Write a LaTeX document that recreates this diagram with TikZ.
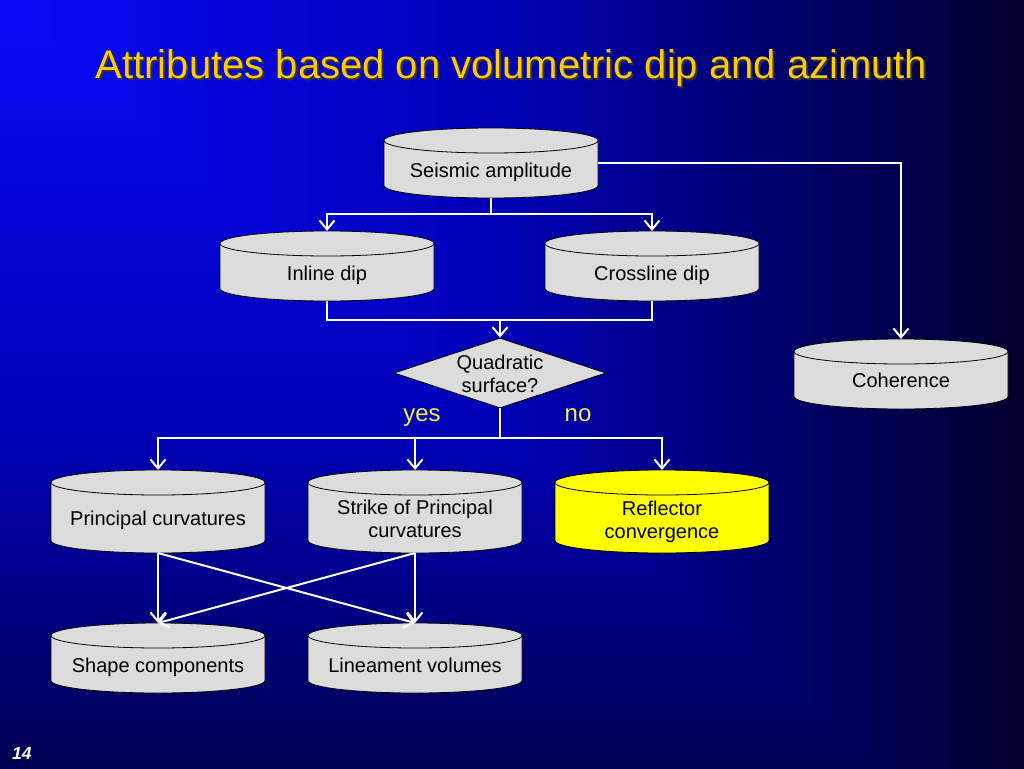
\documentclass[tikz,border=0pt]{standalone}
\usepackage{fontspec}
\setmainfont{Liberation Sans}
\usetikzlibrary{shapes.geometric,arrows.meta}
\definecolor{cylgray}{RGB}{220,220,220}
\definecolor{cylyellow}{RGB}{255,255,0}
\definecolor{titlecol}{RGB}{255,204,0}
\definecolor{yncol}{RGB}{240,240,80}
\newcommand\ryc{12.5pt}
\newcommand\drawcyl[2]{%
  \draw[cylline, fill=#2] ([yshift=-\ryc]#1.north west)
    arc[start angle=180,end angle=0,x radius=107pt,y radius=\ryc]
    -- ([yshift=\ryc]#1.south east)
    arc[start angle=0,end angle=-180,x radius=107pt,y radius=\ryc] -- cycle;
  \draw[cylline] ([yshift=-\ryc]#1.north west)
    arc[start angle=180,end angle=360,x radius=107pt,y radius=\ryc];
}
\tikzset{
  cylbase/.style={rectangle, minimum width=214pt, inner sep=0pt, outer sep=0pt},
  short/.style={cylbase, minimum height=70pt},
  tall/.style={cylbase, minimum height=83pt},
  txt/.style={font=\fontsize{20}{23}\selectfont, align=center, inner sep=0pt, text=black},
  cylline/.style={draw=black, line width=0.8pt},
  conn/.style={draw=white, line width=2pt},
  arr/.style={conn, -{Straight Barb[length=9pt,width=15pt]}},
  yn/.style={font=\fontsize{24}{28}\selectfont, text=yncol, inner sep=0pt, anchor=base},
}
\begin{document}
\begin{tikzpicture}[x=1pt,y=1pt]
\useasboundingbox (0,0) rectangle (1024,-768);
% background gradient from top-left corner
\begin{scope}
\clip (0,0) rectangle (1024,-768);
\foreach \i in {120,119,...,1}{
  \pgfmathsetmacro\t{\i/120}
  \pgfmathtruncatemacro\bb{\t<0.5 ? 250-140*\t : 180-268*(\t-0.5)}
  \pgfmathtruncatemacro\rg{max(0,10-20*\t)}
  \definecolor{bgc}{RGB}{\rg,\rg,\bb}
  \fill[bgc] (0,0) rectangle (1024*\t+1, -889*\t-1);
}
\end{scope}

% title
\node[font=\fontsize{40}{46}\selectfont, text=black!80, anchor=base, inner sep=0pt] (title-s) at (513.5,-80) {Attributes based on volumetric dip and azimuth};
\node[font=\fontsize{40}{46}\selectfont, text=titlecol, anchor=base, inner sep=0pt] (title) at (511.5,-78) {Attributes based on volumetric dip and azimuth};

% shape nodes
\node[short] (seis) at (491,-163) {};
\node[short] (inl) at (327,-266) {};
\node[short] (xl) at (652,-266) {};
\node[short] (coh) at (901,-374) {};
\node[tall] (pc) at (158,-511.5) {};
\node[tall] (spc) at (415,-511.5) {};
\node[tall] (rc) at (662,-511.5) {};
\node[short] (shp) at (158,-658) {};
\node[short] (lin) at (415,-658) {};
\node[diamond, draw=black, line width=0.8pt, fill=cylgray, minimum width=212pt, minimum height=70pt, inner sep=0pt] (quad) at (500,-373) {};

\drawcyl{seis}{cylgray}
\drawcyl{inl}{cylgray}
\drawcyl{xl}{cylgray}
\drawcyl{coh}{cylgray}
\drawcyl{pc}{cylgray}
\drawcyl{spc}{cylgray}
\drawcyl{rc}{cylyellow}
\drawcyl{shp}{cylgray}
\drawcyl{lin}{cylgray}

% texts
\node[txt] (seis-t) at ([yshift=-9pt]seis.center) {Seismic amplitude};
\node[txt] (inl-t) at ([yshift=-9pt]inl.center) {Inline dip};
\node[txt] (xl-t) at ([yshift=-9pt]xl.center) {Crossline dip};
\node[txt] (coh-t) at ([yshift=-6pt]coh.center) {Coherence};
\node[txt] (pc-t) at ([yshift=-9pt]pc.center) {Principal curvatures};
\node[txt] (spc-t) at ([yshift=-7.5pt]spc.center) {Strike of Principal\\curvatures};
\node[txt] (rc-t) at ([yshift=-10pt]rc.center) {Reflector\\convergence};
\node[txt] (shp-t) at ([yshift=-9pt]shp.center) {Shape components};
\node[txt] (lin-t) at ([yshift=-7pt]lin.center) {Lineament volumes};
\node[txt] (quad-t) at ([yshift=-1pt]quad.center) {Quadratic\\surface?};

\node[yn] (yes) at (422,-421.5) {yes};
\node[yn] (no) at (578,-421.5) {no};

\node[font=\fontsize{17.5}{20}\selectfont\bfseries\itshape, text=white, anchor=base west, inner sep=0pt] (pg) at (12,-759) {14};

% connectors
\coordinate (j1) at (491,-214);
\draw[conn] (seis.south) -- (j1);
\draw[arr] (j1) -| (inl.north);
\draw[arr] (j1) -| (xl.north);
\draw[arr] (seis.east) -| (coh.north);

\coordinate (j2) at (500,-320);
\draw[conn] (inl.south) |- (j2) -| (xl.south);
\draw[arr] (j2) -- (quad.north);

\coordinate (j3) at (500,-438);
\draw[conn] (quad.south) -- (j3);
\draw[arr] (j3) -| (pc.north);
\draw[arr] (j3) -| (spc.north);
\draw[arr] (j3) -| (rc.north);

\draw[arr] (pc.south) -- (shp.north);
\draw[arr] (pc.south) -- (lin.north);
\draw[arr] (spc.south) -- (shp.north);
\draw[arr] (spc.south) -- (lin.north);
\end{tikzpicture}
\end{document}
